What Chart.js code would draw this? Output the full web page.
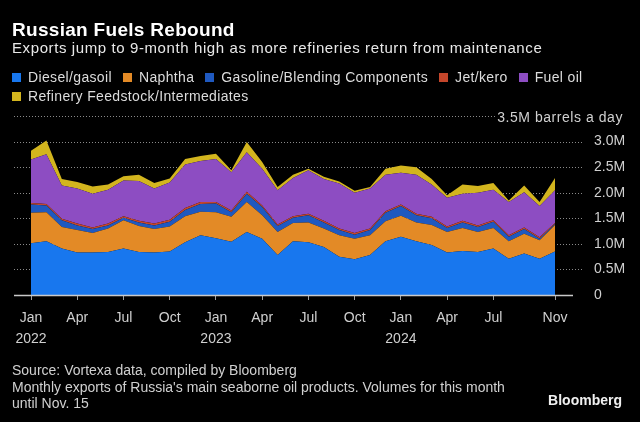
<!DOCTYPE html>
<html><head><meta charset="utf-8">
<script src="https://cdn.jsdelivr.net/npm/chart.js@4.4.1/dist/chart.umd.min.js"></script>
<style>
html,body{margin:0;padding:0;background:#000;}
#wrap{position:relative;width:640px;height:422px;overflow:hidden;background:#000;font-family:"Liberation Sans",Arial,sans-serif;}
#c{position:absolute;left:0;top:0;}
.t{position:absolute;white-space:nowrap;line-height:1;}
#title{left:12px;top:20px;font-size:19px;font-weight:bold;color:#fff;letter-spacing:0.3px;}
#sub{left:12px;top:40px;font-size:15px;color:#e8e8e8;letter-spacing:0.6px;}
.lg{position:absolute;left:12px;font-size:14px;color:#dcdcdc;line-height:1;white-space:nowrap;display:flex;letter-spacing:0.35px;}
.lg span.it{display:inline-flex;align-items:center;margin-right:11px;}
.lg i{display:inline-block;width:9px;height:9px;margin-right:7px;}
#unit{right:17px;top:110px;font-size:14px;color:#d0d0d0;letter-spacing:0.55px;}
.ft{left:12px;font-size:14px;color:#d0d0d0;}
#brand{right:18px;top:393px;font-size:14px;font-weight:bold;color:#f0f0f0;}
</style></head>
<body>
<div id="wrap">
<canvas id="c" width="640" height="422"></canvas>
<div class="t" id="title">Russian Fuels Rebound</div>
<div class="t" id="sub">Exports jump to 9-month high as more refineries return from maintenance</div>
<div class="lg" id="lg1" style="top:70px"></div>
<div class="lg" id="lg2" style="top:89px"></div>
<div class="t" id="unit">3.5M barrels a day</div>
<div class="t ft" style="top:363px">Source: Vortexa data, compiled by Bloomberg</div>
<div class="t ft" style="top:380px">Monthly exports of Russia's main seaborne oil products. Volumes for this month</div>
<div class="t ft" style="top:396px">until Nov. 15</div>
<div class="t" id="brand">Bloomberg</div>
</div>
<script>
// Months Jan 2022 .. Nov 2024
const months = [
 'Jan 2022','Feb 2022','Mar 2022','Apr 2022','May 2022','Jun 2022','Jul 2022','Aug 2022','Sep 2022','Oct 2022','Nov 2022','Dec 2022',
 'Jan 2023','Feb 2023','Mar 2023','Apr 2023','May 2023','Jun 2023','Jul 2023','Aug 2023','Sep 2023','Oct 2023','Nov 2023','Dec 2023',
 'Jan 2024','Feb 2024','Mar 2024','Apr 2024','May 2024','Jun 2024','Jul 2024','Aug 2024','Sep 2024','Oct 2024','Nov 2024'];
const seriesNames = ['Diesel/gasoil','Naphtha','Gasoline/Blending Components','Jet/kero','Fuel oil','Refinery Feedstock/Intermediates'];
// million barrels a day
const diesel    = [1.01,1.05,0.91,0.83,0.83,0.84,0.91,0.84,0.83,0.85,1.03,1.17,1.11,1.04,1.23,1.10,0.78,1.05,1.03,0.94,0.75,0.70,0.78,1.05,1.14,1.05,0.98,0.83,0.86,0.84,0.91,0.71,0.81,0.71,0.85];
const naphtha   = [0.60,0.57,0.42,0.44,0.38,0.46,0.55,0.51,0.46,0.49,0.51,0.46,0.51,0.49,0.59,0.46,0.45,0.36,0.39,0.36,0.42,0.40,0.39,0.39,0.41,0.37,0.39,0.40,0.45,0.39,0.40,0.34,0.39,0.36,0.52];
const gasoline  = [0.16,0.13,0.13,0.09,0.08,0.06,0.05,0.07,0.07,0.09,0.12,0.15,0.17,0.09,0.16,0.16,0.12,0.10,0.14,0.12,0.10,0.08,0.10,0.17,0.19,0.14,0.13,0.08,0.11,0.10,0.12,0.09,0.09,0.03,0.02];
const jetKero   = [0.03,0.03,0.03,0.04,0.03,0.04,0.03,0.03,0.04,0.04,0.04,0.04,0.03,0.03,0.04,0.03,0.03,0.03,0.03,0.03,0.03,0.03,0.03,0.03,0.03,0.03,0.03,0.03,0.03,0.03,0.03,0.03,0.03,0.03,0.02];
const fuelOil   = [0.85,0.97,0.65,0.68,0.66,0.66,0.70,0.78,0.68,0.73,0.85,0.80,0.84,0.75,0.77,0.72,0.67,0.75,0.85,0.82,0.88,0.79,0.78,0.71,0.62,0.76,0.63,0.56,0.53,0.64,0.60,0.65,0.69,0.61,0.64];
const feedstock = [0.17,0.27,0.13,0.13,0.14,0.10,0.08,0.12,0.11,0.08,0.11,0.10,0.10,0.04,0.20,0.13,0.06,0.06,0.03,0.04,0.04,0.04,0.03,0.12,0.14,0.15,0.11,0.05,0.18,0.13,0.13,0.03,0.13,0.08,0.24];
const xTickIdx    = [0,3,6,9,12,15,18,21,24,27,30,34];
const xTickLabels = [['Jan','2022'],'Apr','Jul','Oct',['Jan','2023'],'Apr','Jul','Oct',['Jan','2024'],'Apr','Jul','Nov'];
const yTickVals   = [0,0.5,1,1.5,2,2.5,3,3.5];
const yTickLabels = ['0','0.5M','1.0M','1.5M','2.0M','2.5M','3.0M',''];

const seriesColors = ['#1877ee','#e38a26','#1f59c0','#c4462b','#8d4dc2','#d3b51e'];
const FONT = '"Liberation Sans", Arial, sans-serif';

// legend
seriesNames.forEach((n,k)=>{
  const el = document.createElement('span'); el.className='it';
  el.innerHTML = '<i style="background:'+seriesColors[k]+'"></i>' + n;
  document.getElementById(k<5?'lg1':'lg2').appendChild(el);
});

const seriesList = [diesel,naphtha,gasoline,jetKero,fuelOil,feedstock];
const datasets = seriesNames.map((name,k)=>({
  label:name,
  data: seriesList[k].map((v,i)=>({x:i,y:v})),
  backgroundColor: seriesColors[k],
  borderColor: seriesColors[k],
  borderWidth: 0,
  pointRadius: 0,
  fill: k===0 ? 'origin' : '-1',
  tension: 0
}));

const decor = {
  id:'decor',
  beforeDatasetsDraw(chart){
    const {ctx, chartArea:a, scales:{y}} = chart;
    ctx.save();
    ctx.strokeStyle = '#8a8a8a'; ctx.lineWidth = 1; ctx.setLineDash([1,2]);
    yTickVals.forEach(v=>{
      if (v===0) return;
      const py = Math.round(y.getPixelForValue(v)) + 0.5;
      ctx.beginPath(); ctx.moveTo(a.left-17, py);
      ctx.lineTo(v===3.5 ? a.right-60 : a.right+28, py); ctx.stroke();
    });
    ctx.restore();
  },
  afterDatasetsDraw(chart){
    const {ctx, chartArea:a, scales:{y}} = chart;
    const py = Math.round(y.getPixelForValue(0)) + 0.5;
    ctx.save();
    ctx.strokeStyle = '#c9c9c9'; ctx.lineWidth = 1.5;
    ctx.beginPath(); ctx.moveTo(a.left-17, py); ctx.lineTo(a.right+18, py); ctx.stroke();
    ctx.restore();
  }
};

new Chart(document.getElementById('c'), {
  type:'line',
  data:{datasets},
  plugins:[decor],
  options:{
    responsive:false, animation:false, devicePixelRatio:1,
    layout:{padding:{left:31,right:0,top:116,bottom:0}},
    plugins:{legend:{display:false}, tooltip:{enabled:false}},
    scales:{
      x:{type:'linear', min:0, max:34,
        afterBuildTicks: ax => { ax.ticks = xTickIdx.map(v=>({value:v})); },
        afterFit: ax => { ax.height = 127; },
        grid:{display:true, drawOnChartArea:false, drawTicks:true, tickLength:5, tickColor:'#a0a0a0', lineWidth:1},
        border:{display:false},
        ticks:{autoSkip:false, maxRotation:0, minRotation:0, color:'#d0d0d0', padding:8,
          font:{family:FONT, size:14, lineHeight:1.5},
          callback:(v)=>{ const k = xTickIdx.indexOf(v); return k<0 ? '' : xTickLabels[k]; }}
      },
      y:{position:'right', stacked:true, min:0, max:3.5,
        afterBuildTicks: ax => { ax.ticks = yTickVals.map(v=>({value:v})); },
        afterFit: ax => { ax.width = 85; },
        grid:{display:false, drawTicks:false},
        border:{display:false},
        ticks:{color:'#d0d0d0', padding:39, font:{family:FONT, size:14},
          callback:(v)=>{ const k = yTickVals.indexOf(v); return k<0 ? '' : yTickLabels[k]; }}
      }
    }
  }
});
</script>
</body></html>
